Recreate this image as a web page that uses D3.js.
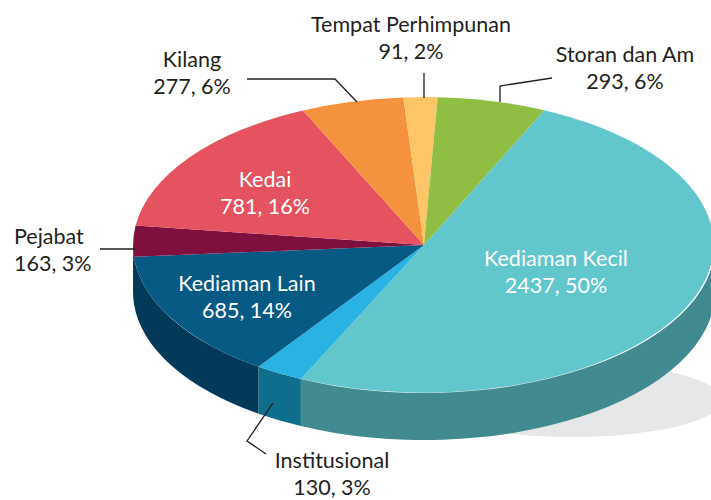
<!DOCTYPE html>
<html lang="en">
<head>
<meta charset="utf-8">
<title>Pie 3D</title>
<script src="https://d3js.org/d3.v7.min.js"></script>
<style>
body { margin: 0; background: #fff; }
text { font-family: Lato, "Open Sans", sans-serif; font-size: 21.5px; }
</style>
</head>
<body>
<svg id="chart" width="711" height="500"></svg>
<script>
// data
var categories = ["Kediaman Kecil", "Institusional", "Kediaman Lain", "Pejabat",
                  "Kedai", "Kilang", "Tempat Perhimpunan", "Storan dan Am"];
var values = [2437, 130, 685, 163, 781, 277, 91, 293];
var topColors = ["#62c6cd", "#29b2e2", "#075a84", "#7f0f3e",
                 "#e55361", "#f5923e", "#fec567", "#8fbe43"];
var sideColors = ["#418a8f", "#0f6e8c", "#033a5a", "#5a0a2c",
                  "#a33b45", "#b06a2c", "#b58d49", "#668730"];

// layout
var cx = 424, cy = 245, rx = 291, ry = 148, depth = 47;
var startAngle = 24.4 * Math.PI / 180;

// label placement: [x, y of first baseline, anchor, white?]
var labelPos = [
    [556, 266, "middle", true],
    [332, 468, "middle", false],
    [247, 291, "middle", true],
    [14, 244, "start", false],
    [265, 187, "middle", true],
    [192, 67, "middle", false],
    [411, 32, "middle", false],
    [625, 62, "middle", false]
];
// leader lines (only for outside labels)
var leaders = {
    1: [[273, 403], [247, 441], [266, 454]],
    3: [[100, 249], [135, 249]],
    5: [[247, 79], [335, 79], [357, 102]],
    6: [[424, 73], [424, 98]],
    7: [[552, 78], [500, 86], [500, 102]]
};

var svg = d3.select("#chart");
var total = d3.sum(values);
var pct = d3.format(".0%");

var pie = d3.pie()
    .sort(null)
    .startAngle(startAngle)
    .endAngle(startAngle + 2 * Math.PI);
var arcs = pie(values);

// shadow
svg.append("ellipse")
    .attr("cx", 572).attr("cy", 400)
    .attr("rx", 150).attr("ry", 37)
    .attr("fill", "#e6e7e8");

function px(a) { return cx + rx * Math.sin(a); }
function py(a) { return cy - ry * Math.cos(a); }

// side walls (front half only: angles between PI/2 and 3PI/2)
var lo = Math.PI / 2, hi = 3 * Math.PI / 2;
arcs.forEach(function(d, i) {
    var segs = [[d.startAngle, d.endAngle], [d.startAngle - 2 * Math.PI, d.endAngle - 2 * Math.PI]];
    segs.forEach(function(s) {
        var a0 = Math.max(s[0], lo), a1 = Math.min(s[1], hi);
        if (a1 <= a0) return;
        var large = (a1 - a0) > Math.PI ? 1 : 0;
        var p = "M" + px(a0) + "," + py(a0) +
            " A" + rx + "," + ry + " 0 " + large + " 1 " + px(a1) + "," + py(a1) +
            " L" + px(a1) + "," + (py(a1) + depth) +
            " A" + rx + "," + ry + " 0 " + large + " 0 " + px(a0) + "," + (py(a0) + depth) + " Z";
        svg.append("path")
            .attr("d", p)
            .attr("fill", sideColors[i]);
    });
});

// top faces
var arc = d3.arc().innerRadius(0).outerRadius(1);
svg.append("g")
    .attr("transform", "translate(" + cx + "," + cy + ") scale(" + rx + "," + ry + ")")
    .selectAll("path")
    .data(arcs)
    .enter().append("path")
    .attr("d", arc)
    .attr("fill", function(d, i) { return topColors[i]; });

// leaders
var line = d3.line();
Object.keys(leaders).forEach(function(k) {
    svg.append("path")
        .attr("d", line(leaders[k]))
        .attr("fill", "none")
        .attr("stroke", "#231f20")
        .attr("stroke-width", 1.3);
});

// labels
categories.forEach(function(c, i) {
    var lp = labelPos[i];
    var t = svg.append("text")
        .attr("x", lp[0])
        .attr("y", lp[1])
        .attr("text-anchor", lp[2])
        .attr("fill", lp[3] ? "#ffffff" : "#231f20");
    t.append("tspan").attr("x", lp[0]).text(c);
    t.append("tspan").attr("x", lp[0]).attr("dy", 27)
        .text(values[i] + ", " + pct(values[i] / total));
});
</script>
</body>
</html>
